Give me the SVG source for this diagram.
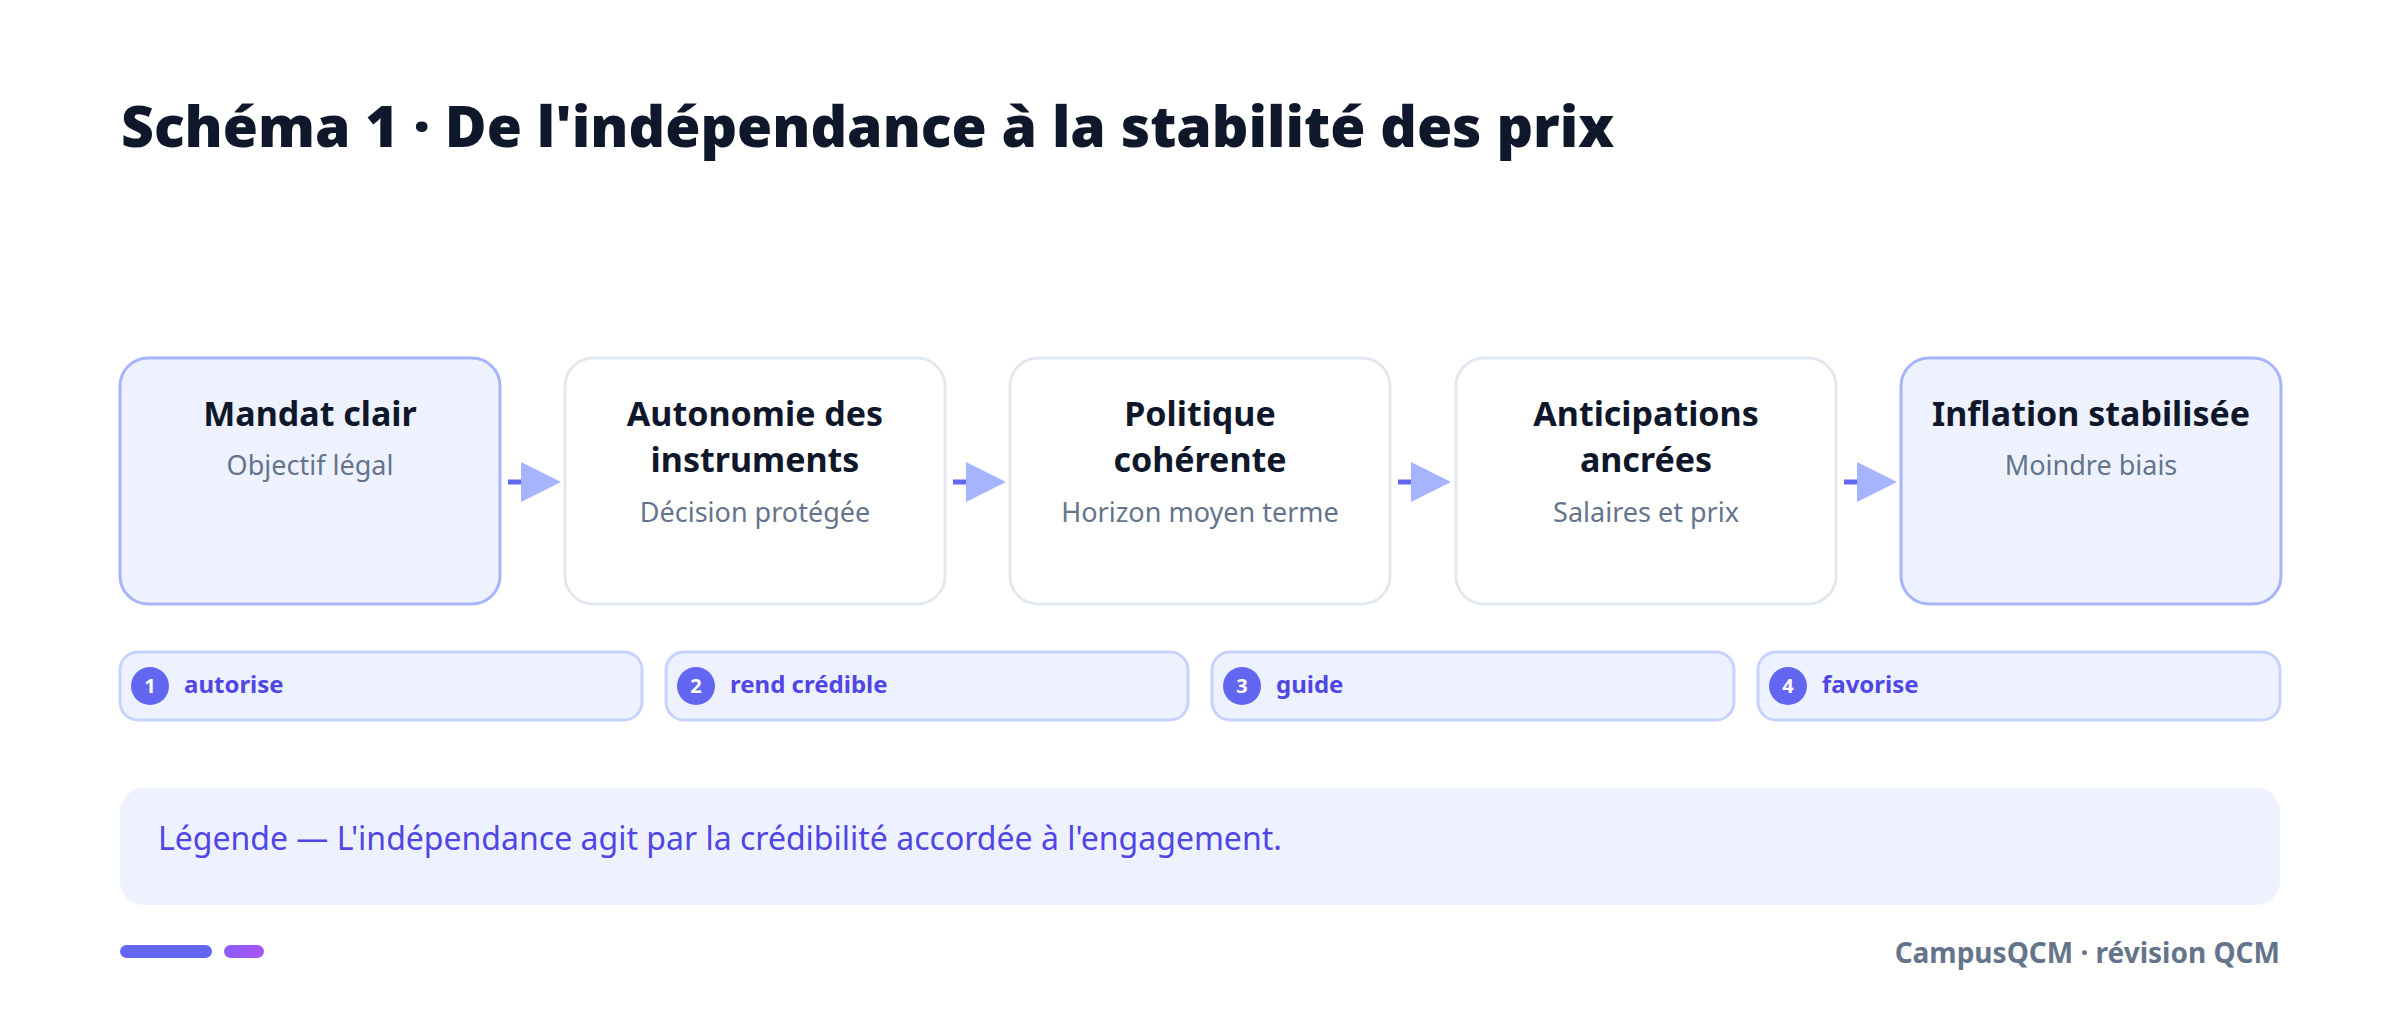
<svg xmlns="http://www.w3.org/2000/svg" width="2400" height="1013" viewBox="0 0 2400 1013">
<defs>
<style>
.title{font-family:"Noto Sans","Open Sans","Liberation Sans",sans-serif;font-weight:900;font-size:57px;fill:#0f172a}
.nt{font-family:"Noto Sans","Open Sans","Liberation Sans",sans-serif;font-weight:700;font-size:34px;fill:#0f172a;text-anchor:middle}
.ns{font-family:"Noto Sans","Open Sans","Liberation Sans",sans-serif;font-weight:400;font-size:27px;fill:#64748b;text-anchor:middle}
.hl{fill:#eef2ff;stroke:#a5b4fc;stroke-width:3}
.pl{fill:#ffffff;stroke:#e2e8f0;stroke-width:3}
.pill{fill:#eef2ff;stroke:#c7d2fe;stroke-width:3}
.badge{fill:#6366f1}
.bn{font-family:"Noto Sans","Open Sans","Liberation Sans",sans-serif;font-weight:700;font-size:20px;fill:#ffffff;text-anchor:middle}
.pt{font-family:"Noto Sans","Open Sans","Liberation Sans",sans-serif;font-weight:700;font-size:24px;fill:#4f46e5}
.dash{stroke:#6366f1;stroke-width:5}
.head{fill:#a5b4fc}
.leg{font-family:"Noto Sans","Open Sans","Liberation Sans",sans-serif;font-weight:400;font-size:32px;fill:#4f46e5}
.foot{font-family:"Noto Sans","Open Sans","Liberation Sans",sans-serif;font-weight:700;font-size:28px;fill:#64748b;text-anchor:end}
</style>
<linearGradient id="g2" x1="0" y1="0" x2="1" y2="0">
<stop offset="0" stop-color="#8b5cf6"/><stop offset="1" stop-color="#a855f7"/>
</linearGradient>
</defs>
<rect width="2400" height="1013" fill="#ffffff"/>
<text class="title" x="121" y="147">Schéma 1 · De l'indépendance à la stabilité des prix</text>

<g id="connectors">
<line class="dash" x1="508" y1="482" x2="523" y2="482"/><polygon class="head" points="521,462 561,482 521,502"/>
<line class="dash" x1="953" y1="482" x2="968" y2="482"/><polygon class="head" points="966,462 1006,482 966,502"/>
<line class="dash" x1="1398" y1="482" x2="1413" y2="482"/><polygon class="head" points="1411,462 1451,482 1411,502"/>
<line class="dash" x1="1844" y1="482" x2="1859" y2="482"/><polygon class="head" points="1857,462 1897,482 1857,502"/>
</g>

<g id="node1"><rect class="hl" x="120" y="358" width="380" height="246" rx="28"/>
<text class="nt" x="310" y="426">Mandat clair</text><text class="ns" x="310" y="475">Objectif légal</text></g>
<g id="node2"><rect class="pl" x="565" y="358" width="380" height="246" rx="28"/>
<text class="nt" x="755" y="426">Autonomie des</text><text class="nt" x="755" y="472">instruments</text><text class="ns" x="755" y="522">Décision protégée</text></g>
<g id="node3"><rect class="pl" x="1010" y="358" width="380" height="246" rx="28"/>
<text class="nt" x="1200" y="426">Politique</text><text class="nt" x="1200" y="472">cohérente</text><text class="ns" x="1200" y="522">Horizon moyen terme</text></g>
<g id="node4"><rect class="pl" x="1456" y="358" width="380" height="246" rx="28"/>
<text class="nt" x="1646" y="426">Anticipations</text><text class="nt" x="1646" y="472">ancrées</text><text class="ns" x="1646" y="522">Salaires et prix</text></g>
<g id="node5"><rect class="hl" x="1901" y="358" width="380" height="246" rx="28"/>
<text class="nt" x="2091" y="426">Inflation stabilisée</text><text class="ns" x="2091" y="475">Moindre biais</text></g>

<g id="step1"><rect class="pill" x="120" y="652" width="522" height="68" rx="18"/><circle class="badge" cx="150" cy="686" r="19"/><text class="bn" x="150" y="693">1</text><text class="pt" x="184" y="693">autorise</text></g>
<g id="step2"><rect class="pill" x="666" y="652" width="522" height="68" rx="18"/><circle class="badge" cx="696" cy="686" r="19"/><text class="bn" x="696" y="693">2</text><text class="pt" x="730" y="693">rend crédible</text></g>
<g id="step3"><rect class="pill" x="1212" y="652" width="522" height="68" rx="18"/><circle class="badge" cx="1242" cy="686" r="19"/><text class="bn" x="1242" y="693">3</text><text class="pt" x="1276" y="693">guide</text></g>
<g id="step4"><rect class="pill" x="1758" y="652" width="522" height="68" rx="18"/><circle class="badge" cx="1788" cy="686" r="19"/><text class="bn" x="1788" y="693">4</text><text class="pt" x="1822" y="693">favorise</text></g>

<g id="legend"><rect x="120" y="788" width="2160" height="117" rx="24" fill="#eef2ff"/>
<text class="leg" x="158" y="850">Légende — L'indépendance agit par la crédibilité accordée à l'engagement.</text></g>

<rect x="120" y="945" width="92" height="13" rx="6.5" fill="#6366f1"/>
<rect x="224" y="945" width="40" height="13" rx="6.5" fill="url(#g2)"/>
<text class="foot" x="2280" y="963">CampusQCM · révision QCM</text>
</svg>
